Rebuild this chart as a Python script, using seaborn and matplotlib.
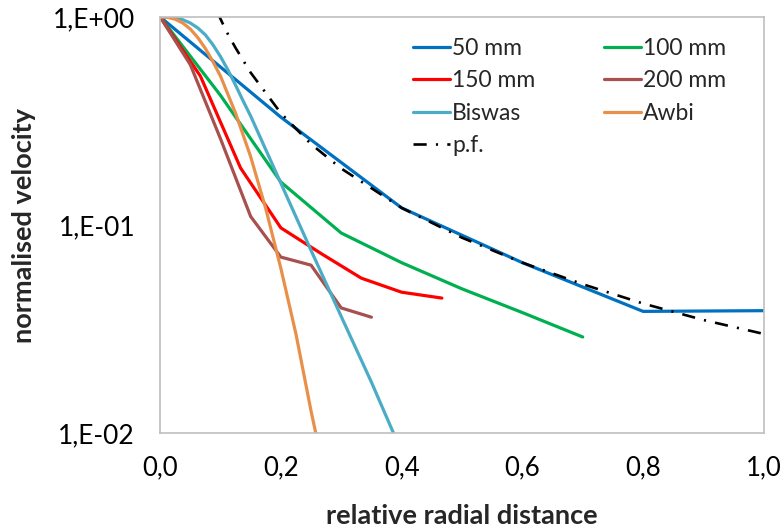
import numpy as np
import pandas as pd
import seaborn as sns
import matplotlib.pyplot as plt
from matplotlib.ticker import FixedLocator, NullFormatter, LogLocator

# values
x_50 = [0.0, 0.2, 0.4, 0.6, 0.8, 1.0]
v_50 = [1.0, 0.33, 0.121, 0.066, 0.0385, 0.0388]

x_100 = [0.0, 0.1, 0.2, 0.3, 0.4, 0.5, 0.6, 0.7]
v_100 = [1.0, 0.42, 0.161, 0.0916, 0.066, 0.0494, 0.038, 0.029]

x_150 = [0.0, 0.0667, 0.1333, 0.2, 0.2667, 0.3333, 0.4, 0.4667]
v_150 = [1.0, 0.52, 0.188, 0.097, 0.073, 0.0556, 0.0476, 0.0446]

x_200 = [0.0, 0.05, 0.1, 0.15, 0.2, 0.25, 0.3, 0.35]
v_200 = [1.0, 0.59, 0.26, 0.110, 0.0702, 0.0642, 0.040, 0.0361]

x_bis = [0.0, 0.0125, 0.025, 0.0375, 0.05, 0.0625, 0.075, 0.0875, 0.1,
         0.1125, 0.125, 0.1375, 0.15, 0.2, 0.25, 0.3, 0.35, 0.395]
v_bis = [1.0, 0.998, 0.99, 0.97, 0.935, 0.885, 0.82, 0.735, 0.645,
         0.555, 0.47, 0.395, 0.334, 0.159, 0.0756, 0.0364, 0.0176, 0.0088]

x_awb = [0.0, 0.0125, 0.025, 0.0375, 0.05, 0.0625, 0.075, 0.0875, 0.1,
         0.125, 0.15, 0.175, 0.2, 0.225, 0.25, 0.262]
v_awb = [1.0, 0.995, 0.975, 0.935, 0.875, 0.795, 0.705, 0.61, 0.52,
         0.345, 0.213, 0.12, 0.062, 0.030, 0.0128, 0.0088]

x_pf = [0.095, 0.11, 0.125, 0.15, 0.2, 0.25, 0.3, 0.4, 0.5, 0.6, 0.7, 0.8, 0.9, 1.0]
v_pf = [1.05, 0.85, 0.71, 0.54, 0.345, 0.245, 0.187, 0.121, 0.087, 0.066, 0.052, 0.042, 0.035, 0.030]

series = [
    ("50 mm", x_50, v_50, "#0070C0"),
    ("100 mm", x_100, v_100, "#00B050"),
    ("150 mm", x_150, v_150, "#FF0000"),
    ("200 mm", x_200, v_200, "#A8504D"),
    ("Biswas", x_bis, v_bis, "#4BACC6"),
    ("Awbi", x_awb, v_awb, "#E8904A"),
]

sns.set_style("white")
plt.rcParams['font.family'] = ['Lato', 'DejaVu Sans']

fig = plt.figure(figsize=(7.81, 5.29), dpi=100)
ax = fig.add_axes([0.205, 0.181, 0.773, 0.787])

handles = {}
for name, xs, vs, col in series:
    df = pd.DataFrame({"x": xs, "v": vs})
    sns.lineplot(data=df, x="x", y="v", color=col, linewidth=2.3,
                 sort=False, ax=ax, label=name, legend=False)
    handles[name] = ax.lines[-1]

df_pf = pd.DataFrame({"x": x_pf, "v": v_pf})
sns.lineplot(data=df_pf, x="x", y="v", color="black", linewidth=1.9,
             sort=False, ax=ax, label="p.f.", legend=False)
pf_line = ax.lines[-1]
pf_line.set_dashes((5, 3.5, 0.8, 3.5))
handles["p.f."] = pf_line

ax.set_yscale("log")
ax.set_xlim(0, 1.0)
ax.set_ylim(0.01, 1.0)

# ticks
ax.xaxis.set_major_locator(FixedLocator([0.0, 0.2, 0.4, 0.6, 0.8, 1.0]))
ax.xaxis.set_minor_locator(FixedLocator(np.arange(0, 1.001, 0.04)))
ax.set_xticklabels(["0,0", "0,2", "0,4", "0,6", "0,8", "1,0"])
ax.yaxis.set_major_locator(FixedLocator([0.01, 0.1, 1.0]))
ax.yaxis.set_minor_locator(LogLocator(base=10, subs=np.arange(2, 10)))
ax.yaxis.set_minor_formatter(NullFormatter())
ax.set_yticklabels(["1,E-02", "1,E-01", "1,E+00"])

grey = "#BFBFBF"
ax.tick_params(axis="both", which="both", direction="out", color=grey,
               width=1.2, labelcolor="black")
ax.tick_params(axis="x", which="both", length=7, labelsize=18.5)
ax.tick_params(axis="x", which="major", pad=9)
ax.tick_params(axis="y", which="major", length=8, pad=10, labelsize=19)
ax.tick_params(axis="y", which="minor", length=6)
for sp in ax.spines.values():
    sp.set_color(grey)
    sp.set_linewidth(1.2)

ax.set_xlabel("relative radial distance", fontsize=19.5, fontweight="bold")
ax.set_ylabel("normalised velocity", fontsize=19.5, fontweight="bold")
ax.xaxis.set_label_coords(0.5, -0.17)
ax.yaxis.set_label_coords(-0.205, 0.5)

order = ["50 mm", "150 mm", "Biswas", "p.f.", "100 mm", "200 mm", "Awbi"]
ax.legend([handles[k] for k in order], order, ncol=2, loc="upper left",
          bbox_to_anchor=(0.419, 0.95), frameon=False, fontsize=16.5,
          handlelength=1.6, handletextpad=0.1, columnspacing=3.0,
          labelspacing=0.5, borderaxespad=0.0, borderpad=0.0)

fig.savefig("out.png", dpi=100)
